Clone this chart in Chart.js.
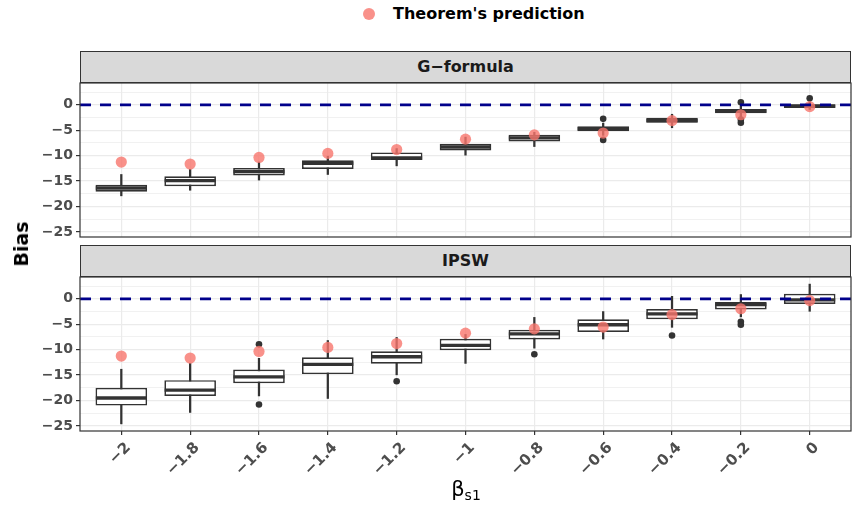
<!DOCTYPE html>
<html>
<head>
<meta charset="utf-8">
<script src="https://cdn.jsdelivr.net/npm/chart.js@4.4.1/dist/chart.umd.min.js"></script>
<style>
  body { margin: 0; background: #fff; font-family: "DejaVu Sans", sans-serif; }
  #page { position: relative; width: 852px; height: 510px; overflow: hidden; background: #fff; }
  .strip { position: absolute; left: 80px; width: 771px; height: 32px; box-sizing: border-box;
           background: #D9D9D9; border: 1.2px solid #333; color: #1A1A1A; font-weight: bold;
           font-size: 16px; text-align: center; line-height: 30px; }
  canvas { position: absolute; left: 0; }
  #legend { position: absolute; top: 4px; left: 363px; font-size: 16px; font-weight: bold; color: #000; white-space: nowrap; }
  #legend .dot { display: inline-block; width: 12px; height: 12px; border-radius: 50%;
                 background: rgba(248,118,109,0.8); margin-right: 18px; vertical-align: -1px; }
  #ytitle { position: absolute; left: 21px; top: 244px; transform: translate(-50%, -50%) rotate(-90deg);
            font-size: 19px; font-weight: bold; color: #000; }
  #xtitle { position: absolute; left: 466px; top: 490px; transform: translate(-50%, -50%);
            font-size: 21px; color: #000; white-space: nowrap; }
  #xtitle sub { font-size: 14px; vertical-align: -4px; }
</style>
</head>
<body>
<div id="page">
  <div id="legend"><span class="dot"></span>Theorem's prediction</div>
  <div class="strip" style="top:51px">G−formula</div>
  <canvas id="panelG" width="852" height="160" style="top:80px"></canvas>
  <div class="strip" style="top:245px">IPSW</div>
  <canvas id="panelI" width="852" height="236" style="top:274px"></canvas>
  <div id="ytitle">Bias</div>
  <div id="xtitle">β<sub>s1</sub></div>
</div>
<script>
// categories (beta_s1) and their tick labels
const betaValues = [-2, -1.8, -1.6, -1.4, -1.2, -1, -0.8, -0.6, -0.4, -0.2, 0];
const betaLabels = ['−2', '−1.8', '−1.6', '−1.4', '−1.2', '−1', '−0.8', '−0.6', '−0.4', '−0.2', '0'];

// theorem's prediction (same in both panels)
const theoremPrediction = [-11.25, -11.65, -10.35, -9.55, -8.8, -6.75, -5.9, -5.55, -3.1, -1.95, -0.35];

// G-formula boxplots
const gformulaLower  = [-17.9, -16.8, -14.8, -13.7, -12.0, -9.9, -8.2, -6.0, -4.5, -2.4, -0.9];
const gformulaQ1     = [-17.1, -16.0, -13.9, -12.6, -10.85, -8.96, -7.2, -5.2, -3.5, -1.65, -0.6];
const gformulaMedian = [-16.35, -14.9, -13.1, -11.5, -10.45, -8.3, -6.5, -4.7, -3.1, -1.2, -0.25];
const gformulaQ3     = [-15.7, -14.06, -12.4, -10.9, -9.35, -7.65, -5.9, -4.2, -2.55, -0.8, 0.1];
const gformulaUpper  = [-13.7, -12.7, -11.25, -10.1, -8.6, -6.35, -5.4, -3.6, -1.85, -0.14, 0.65];
const gformulaOutliers = [[-0.6, -2.75], [-0.6, -6.9], [-0.2, 0.5], [-0.2, -2.9], [-0.2, -3.5], [0, 1.3]];

// IPSW boxplots
const ipswLower  = [-24.6, -22.35, -19.1, -19.6, -14.95, -12.7, -9.7, -7.9, -5.6, -3.55, -2.45];
const ipswQ1     = [-21.0, -19.1, -16.6, -14.8, -12.75, -10.1, -8.0, -6.5, -4.0, -2.1, -1.0];
const ipswMedian = [-19.5, -17.95, -15.35, -12.9, -11.4, -9.15, -6.9, -5.1, -2.95, -1.1, -0.2];
const ipswQ3     = [-17.5, -16.0, -13.9, -11.5, -10.3, -7.85, -6.1, -4.0, -2.0, -0.6, 1.0];
const ipswUpper  = [-13.85, -12.7, -11.7, -8.2, -7.6, -7.0, -3.65, -2.5, 0.5, 0.85, 2.9];
const ipswOutliers = [[-1.6, -8.95], [-1.6, -20.8], [-1.2, -16.2], [-0.8, -10.9], [-0.4, -7.2], [-0.2, -4.5], [-0.2, -5.1]];

// axes
const yMajorTicks = [-25, -20, -15, -10, -5, 0];
const yMajorLabels = ['−25', '−20', '−15', '−10', '−5', '0'];
const yMinorTicks = [-22.5, -17.5, -12.5, -7.5, -2.5, 2.5];
const yLimits = [-26, 4.3];
const xLimits = [-2.12, 0.12];
const referenceLine = 0;

const tickFont = { family: 'DejaVu Sans', size: 14, weight: 'bold' };

const panelBorder = {
  id: 'panelBorder',
  afterDatasetsDraw(chart) {
    const { ctx, chartArea: a } = chart;
    ctx.save();
    ctx.strokeStyle = '#333333';
    ctx.lineWidth = 1.2;
    ctx.strokeRect(a.left, a.top, a.right - a.left, a.bottom - a.top);
    ctx.restore();
  }
};

function makePanel(id, lower, q1, median, q3, upper, outliers, showX) {
  const ctx = document.getElementById(id).getContext('2d');
  const isMajor = v => yMajorTicks.includes(v);

  return new Chart(ctx, {
    type: 'bar',
    data: {
      datasets: [
        {
          type: 'line',
          data: [{ x: xLimits[0], y: referenceLine }, { x: xLimits[1], y: referenceLine }],
          borderColor: '#00008B',
          borderWidth: 2.8,
          borderDash: [11, 9],
          pointRadius: 0,
          order: 0
        },
        {
          type: 'scatter',
          data: betaValues.map((b, i) => ({ x: b, y: theoremPrediction[i] })),
          backgroundColor: 'rgba(248,118,109,0.8)',
          borderWidth: 0,
          pointRadius: 5.6,
          order: 1
        },
        {
          type: 'scatter',
          data: outliers.map(o => ({ x: o[0], y: o[1] })),
          backgroundColor: '#333333',
          borderWidth: 0,
          pointRadius: 3.3,
          order: 2
        },
        {
          type: 'scatter',
          data: betaValues.map((b, i) => ({ x: b, y: median[i] })),
          pointStyle: 'line',
          pointRadius: 25.5,
          borderColor: '#333333',
          borderWidth: 3.4,
          order: 3
        },
        {
          data: betaValues.map((b, i) => ({ x: b, y: [q1[i], q3[i]] })),
          backgroundColor: '#FFFFFF',
          borderColor: '#333333',
          borderWidth: 1.7,
          borderSkipped: false,
          grouped: false,
          barPercentage: 0.75,
          categoryPercentage: 1,
          order: 4
        },
        {
          data: betaValues.map((b, i) => ({ x: b, y: [lower[i], upper[i]] })),
          backgroundColor: '#333333',
          borderWidth: 0,
          grouped: false,
          barThickness: 1.6,
          order: 5
        }
      ]
    },
    options: {
      responsive: false,
      animation: false,
      events: [],
      layout: { autoPadding: false, padding: { left: 0, right: 1, top: 3, bottom: showX ? 0 : 3 } },
      plugins: { legend: { display: false }, tooltip: { enabled: false } },
      scales: {
        x: {
          type: 'linear',
          min: xLimits[0],
          max: xLimits[1],
          offset: false,
          afterBuildTicks: s => { s.ticks = betaValues.map(v => ({ value: v })); },
          afterFit: s => { s.height = showX ? 79 : 0; s.paddingLeft = 0; s.paddingRight = 0; },
          border: { display: false },
          grid: {
            offset: false,
            color: '#EBEBEB',
            lineWidth: 1.2,
            drawTicks: showX,
            tickLength: 4,
            tickColor: '#333333',
            tickWidth: 1.2
          },
          ticks: {
            display: showX,
            autoSkip: false,
            minRotation: 45,
            maxRotation: 45,
            padding: 4,
            labelOffset: 7,
            color: '#4D4D4D',
            font: { family: 'DejaVu Sans', size: 15, weight: 'bold' },
            callback: (v, i) => betaLabels[i]
          }
        },
        y: {
          type: 'linear',
          min: yLimits[0],
          max: yLimits[1],
          afterBuildTicks: s => {
            s.ticks = yMajorTicks.concat(yMinorTicks).sort((a, b) => a - b).map(v => ({ value: v }));
          },
          afterFit: s => { s.width = 80; s.paddingTop = 0; s.paddingBottom = 0; },
          border: { display: false },
          grid: {
            color: '#EBEBEB',
            lineWidth: c => (c.tick && isMajor(c.tick.value)) ? 1.2 : 0.7,
            tickLength: 4,
            tickColor: c => (c.tick && isMajor(c.tick.value)) ? '#333333' : 'rgba(0,0,0,0)',
            tickWidth: 1.2
          },
          ticks: {
            autoSkip: false,
            padding: 3,
            color: '#4D4D4D',
            font: tickFont,
            callback: v => {
              const k = yMajorTicks.indexOf(v);
              return k >= 0 ? yMajorLabels[k] : '';
            }
          }
        }
      }
    },
    plugins: [panelBorder]
  });
}

makePanel('panelG', gformulaLower, gformulaQ1, gformulaMedian, gformulaQ3, gformulaUpper, gformulaOutliers, false);
makePanel('panelI', ipswLower, ipswQ1, ipswMedian, ipswQ3, ipswUpper, ipswOutliers, true);
</script>
</body>
</html>
